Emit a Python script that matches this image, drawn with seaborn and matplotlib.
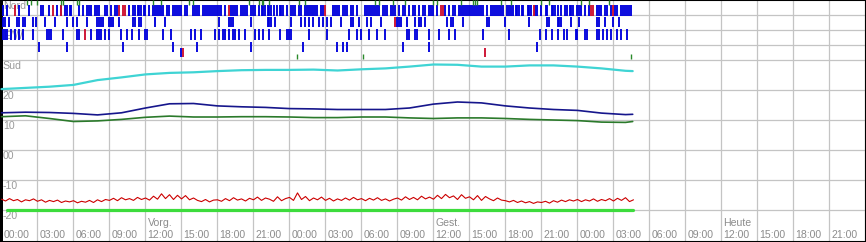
import numpy as np
import pandas as pd
import matplotlib
matplotlib.use("Agg")
import matplotlib.pyplot as plt
import seaborn as sns

# ---------------- data ----------------
# temperature curves, every 2 h from 00:00 "Vorg." (hours since start)
temp_hours = [0, 2, 4, 6, 8, 10, 12, 14, 16, 18, 20, 22, 24, 26, 28, 30, 32, 34,
              36, 38, 40, 42, 44, 46, 48, 50, 52, 52.6]
temp_cyan = [20.3, 20.7, 21.1, 21.7, 23.3, 24.2, 25.2, 25.7, 25.9, 26.3, 26.6, 26.7,
             26.7, 26.8, 26.5, 26.9, 27.2, 27.8, 28.5, 28.4, 27.8, 27.8, 28.2, 28.2,
             27.8, 27.2, 26.4, 26.3]
temp_blue = [12.4, 12.6, 12.5, 12.2, 11.7, 12.4, 14.0, 15.4, 15.5, 14.7, 14.4, 14.2,
             13.8, 13.7, 13.5, 13.5, 13.5, 14.0, 15.3, 16.0, 15.7, 14.7, 14.0, 13.5,
             13.2, 12.3, 11.8, 11.9]
temp_green = [11.1, 11.4, 10.5, 9.5, 9.7, 10.2, 10.9, 11.3, 11.0, 11.0, 11.1, 11.1,
              11.0, 10.8, 10.8, 11.0, 11.0, 10.7, 10.5, 10.7, 10.7, 10.5, 10.2, 10.0,
              9.8, 9.3, 9.2, 9.5]

# red noisy series, 20-minute samples
red_values = [
    -16.4, -17.0, -16.2, -16.9, -16.5, -17.3, -16.6, -16.9, -16.3,
    -17.1, -16.6, -17.4, -16.8, -17.2, -16.7, -17.5, -17.0, -17.3,
    -16.9, -17.6, -17.1, -17.4, -16.8, -17.5, -16.6, -17.2, -16.5,
    -16.8, -16.1, -16.9, -15.9, -16.6, -16.2, -16.8, -15.8, -16.5,
    -16.0, -16.7, -15.4, -16.4, -14.6, -16.2, -14.9, -16.5, -15.1,
    -16.3, -15.2, -16.6, -16.0, -16.8, -17.2, -16.5, -17.3, -16.7,
    -16.6, -17.1, -16.2, -16.9, -15.9, -16.7, -16.3, -17.0, -16.1,
    -16.6, -15.7, -16.8, -16.0, -16.4, -17.1, -15.6, -16.9, -16.2,
    -15.8, -16.8, -14.3, -16.5, -15.5, -16.9, -16.0, -16.6, -15.7,
    -16.8, -16.1, -17.0, -16.3, -16.8, -16.0, -16.7, -15.8, -16.6,
    -16.2, -16.9, -16.1, -16.7, -15.9, -16.8, -16.3, -17.0, -16.4,
    -16.0, -16.7, -15.6, -16.5, -15.8, -16.6, -15.4, -16.3, -15.7,
    -16.4, -15.1, -16.2, -14.8, -15.9, -15.3, -16.5, -14.9, -16.1,
    -15.6, -16.6, -15.2, -16.8, -15.5, -16.3, -16.9, -16.0, -16.7,
    -16.9, -17.3, -16.8, -17.5, -17.0, -17.6, -17.2, -17.8, -17.3,
    -17.5, -17.1, -17.7, -16.9, -17.4, -16.7, -17.2, -16.6, -17.0,
    -16.5, -17.2, -16.6, -17.0, -16.3, -17.1, -16.5, -16.9, -16.2,
    -17.0, -16.1, -16.8, -15.9, -17.2, -16.6,
]
red_step_h = 1 / 3

# thick green baseline series
base_hours = [0.45, 52.6]
base_values = [-19.9, -19.9]

# wind direction samples (10-minute sample index), grouped by direction
wind_n_blue = [1, 3, 9, 14, 20, 21, 24, 28, 30, 32, 33, 34, 35, 39, 41, 43, 44, 45, 47, 48, 49, 52,
               53, 55, 57, 58, 64, 66, 67, 68, 69, 70, 71, 72, 74, 76, 77, 78, 79, 80, 81, 83, 84,
               86, 87, 88, 89, 90, 92, 93, 96, 97, 98, 99, 101, 102, 103, 104,
               105, 106, 107, 108, 109, 110, 112, 115, 116, 117, 118, 120, 121, 122, 123, 125, 126,
               127, 129, 130, 131, 132, 133, 134, 135, 136, 138, 139, 140, 141, 143, 145, 146, 147,
               149, 150, 152, 153, 154, 155, 156, 157, 158,
               160, 161, 166, 167, 168, 169, 171, 172, 173, 175, 176, 178, 182, 183, 184, 185, 186,
               187, 188, 189, 191, 192, 193, 195, 196, 197, 199, 201, 202, 204, 206, 207, 209, 211, 212,
               214, 215, 216, 218, 222, 224, 226, 227, 229, 230, 231, 232, 233, 234, 235, 236, 237,
               238, 239, 240, 241, 243, 245, 246, 247, 248, 249, 250, 251, 253, 254, 255, 256, 257,
               258, 259, 260, 261, 263, 264, 265,
               267, 268, 270, 272, 273, 275, 276, 277, 278, 280, 282, 283, 284, 285, 286, 288, 289,
               290, 292, 294, 298, 299, 300, 302, 303, 305, 307, 308, 310, 311, 312, 313, 314, 315]
wind_n_red = [7, 26, 30, 59, 61, 62, 114, 162, 220, 221, 266, 295, 296, 306]
wind_ne_blue = [1, 2, 4, 8, 9, 11, 12, 16, 17, 22, 27, 33, 36, 38, 43, 48, 49, 50, 51,
                54, 55, 56, 59, 66, 67, 69, 70, 77, 82,
                109, 114, 115, 116, 125, 133, 134, 135, 137, 145, 150, 152, 154, 156,
                159, 161, 163, 165, 170, 175, 176, 179, 183, 185, 190, 198, 199, 200, 203, 207, 209, 210,
                212, 223, 225, 226, 231, 243, 244, 252, 264,
                273, 274, 278, 279, 280, 285, 289, 298, 299, 302, 306, 309]
wind_ne_red = [197]
wind_e_blue = [1, 2, 3, 5, 7, 9, 11, 16, 23, 24, 25, 31, 38, 39, 45, 48, 49, 50,
               52, 54, 60, 63, 65, 69, 72, 73, 81, 85, 95, 97, 100,
               107, 109, 111, 112, 114, 116, 117, 119, 122, 127, 129, 131, 134, 139, 143, 144, 145, 154,
               163, 174, 178, 180, 184, 188, 192, 203, 204, 207, 208,
               214, 219, 224, 227, 241, 254,
               269, 272, 275, 278, 281, 283, 287, 288, 292, 293, 298, 299, 301, 303, 305, 308, 310, 313]
wind_e_red = [42]
wind_se_blue = [19, 33, 61, 86, 98, 125, 151, 168, 171, 173, 201, 214, 268]
wind_s_blue = [90]
wind_s_red = [91, 242]
gust_top_green = [13, 15, 18, 30, 31, 38, 39, 76, 80, 94, 96, 124, 129, 130, 131, 134, 149, 152,
                  187, 189, 196, 202, 216, 218, 230, 236, 237, 238, 250, 255, 270, 274, 290, 294, 304]
gust_low_green = [148, 181, 315]

# axis text
left_labels = ["Nord", "E/W", "Süd", "20", "10", "00", "-10", "-20"]
day_labels = {4: "Vorg.", 12: "Gest.", 20: "Heute"}

# ---------------- drawing ----------------
sns.set_style("white")
plt.rcParams['font.family'] = ['Liberation Sans', 'DejaVu Sans']

W, H = 866, 242
fig = plt.figure(figsize=(W / 100, H / 100), dpi=100)
ax = fig.add_axes([0, 0, 1, 1])

X0, PXH = 1.5, 12.0          # pixel of hour 0, pixels per hour
def py(y):                    # pixel row -> data value
    return (150 - y) / 3.0

ax.set_xlim(-X0 / PXH, (W - X0) / PXH)
ax.set_ylim(py(H), py(0))

ax.set_xticks(np.arange(0, 73, 3))
ax.set_yticks([45, 40, 35, 30, 20, 10, 0, -10, -20])
ax.grid(True, color='#c4c4c4', linewidth=0.9)
ax.set_axisbelow(True)
ax.tick_params(length=0, labelbottom=False, labelleft=False)
for s in ax.spines.values():
    s.set_color('black')
    s.set_linewidth(1.5)
ax.spines['left'].set_linewidth(3.6)

# wind ticks
def dir_center(d):
    return 10 + 0.275 * d

def wind(idx, d, color, half=5.5, lw=1.35):
    h = np.array(idx) / 6.0
    yc = dir_center(d)
    ax.vlines(h, py(yc + half), py(yc - half), colors=color, linewidth=lw, zorder=3)

BLUE, RED, DGREEN = '#0000dc', '#cc1030', '#2a8a2a'
wind(wind_n_blue, 0, BLUE)
wind(wind_n_red, 0, RED)
wind(wind_ne_blue, 45, BLUE, half=5)
wind(wind_ne_red, 45, RED, half=5)
wind(wind_e_blue, 90, BLUE)
wind(wind_e_red, 90, RED)
wind(wind_se_blue, 135, BLUE, half=5)
wind(wind_s_blue, 155, BLUE, half=4.5)
wind(wind_s_red, 155, RED, half=4.5)
ax.vlines(np.array(gust_top_green) / 6.0, py(5), py(0), colors=DGREEN, linewidth=1.0, zorder=3)
ax.vlines(np.array(gust_low_green) / 6.0, py(59), py(54), colors=DGREEN, linewidth=1.0, zorder=3)

# temperature curves
df = pd.DataFrame({"h": temp_hours, "cyan": temp_cyan, "blue": temp_blue, "green": temp_green})
sns.lineplot(data=df, x="h", y="cyan", ax=ax, color='#3fd4d4', linewidth=1.6, zorder=4)
sns.lineplot(data=df, x="h", y="blue", ax=ax, color='#16168c', linewidth=1.2, zorder=4)
sns.lineplot(data=df, x="h", y="green", ax=ax, color='#2b7a2b', linewidth=1.2, zorder=4)

red_h = np.arange(len(red_values)) * red_step_h
sns.lineplot(x=red_h, y=red_values, ax=ax, color='#cc0000', linewidth=0.8, zorder=4)
sns.lineplot(x=base_hours, y=base_values, ax=ax, color='#3ddc3d', linewidth=2.3, zorder=4)
ax.set_xlabel("")
ax.set_ylabel("")

# left labels (placed just under their grid line)
left_tops = [1, 31, 61, 91, 121, 151, 181, 211]
for lab, yt in zip(left_labels, left_tops):
    ax.text(2.8 / PXH - X0 / PXH, py(yt), lab, color='#9a9a9a', fontsize=7.6,
            va='top', ha='left', zorder=2)

# bottom time labels
for k in range(24):
    hr = 3 * k
    xx = hr + 2.0 / PXH
    ax.text(xx, py(230.5), f"{hr % 24:02d}:00", color='#8c8c8c', fontsize=7.6,
            va='top', ha='left', zorder=2)
    if k in day_labels:
        ax.text(xx, py(217.5), day_labels[k], color='#8c8c8c', fontsize=7.6,
                va='top', ha='left', zorder=2)

fig.savefig("out.png", dpi=100)
